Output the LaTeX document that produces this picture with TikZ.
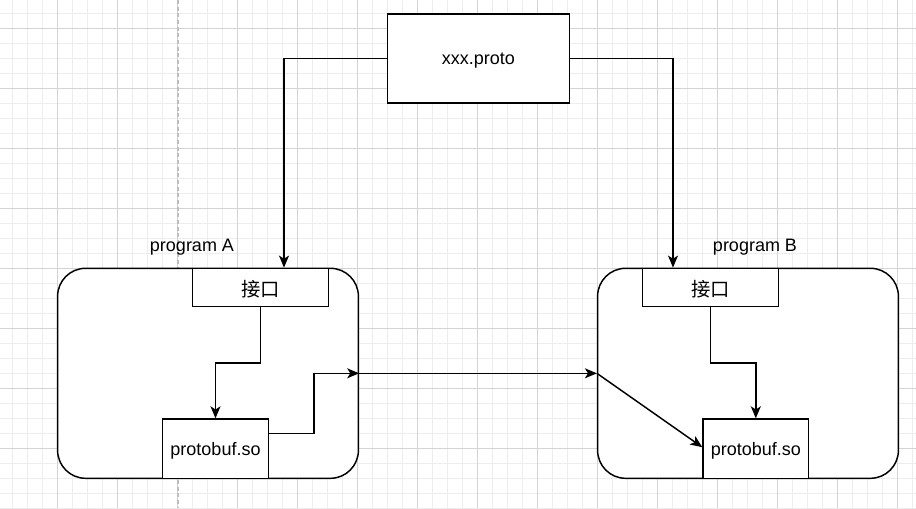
\documentclass[tikz,border=0pt]{standalone}
\usepackage{fontspec}
\setmainfont{Liberation Sans}
\newfontfamily\cjk{Noto Sans CJK SC}
\usetikzlibrary{arrows.meta,calc}
\definecolor{gridminor}{HTML}{EDEDED}
\definecolor{gridmajor}{HTML}{D4D4D4}
\definecolor{pagebreak}{HTML}{BDBDBD}
\newcommand{\lowtx}[1]{\raisebox{-1.5pt}[\height][\depth]{#1}}
\tikzset{
  every node/.style={font=\fontsize{13.5}{16}\selectfont, text=black},
  boxnode/.style={draw=black, line width=1.1pt, fill=white, inner sep=0pt, align=center},
  progbox/.style={boxnode, rounded corners=21pt, minimum width=225.6pt, minimum height=157.5pt},
  ifbox/.style={boxnode, minimum width=101.7pt, minimum height=28.8pt},
  pbbox/.style={boxnode, minimum width=79.2pt, minimum height=44.5pt},
  arr/.style={draw=black, line width=1.1pt, -{Stealth[length=9pt,width=7.5pt,inset=2.4pt]}},
  lbl/.style={inner sep=0pt}
}
\begin{document}
\begin{tikzpicture}[x=0.75pt,y=-0.75pt]
\useasboundingbox (0,0) rectangle (916,508);
\fill[white] (0,0) rectangle (916,508);
% grid
\foreach \i in {1,...,61} \draw[gridminor, line width=0.75pt] ({-2.7+15*\i},0) -- ({-2.7+15*\i},508);
\foreach \j in {1,...,34} \draw[gridminor, line width=0.75pt] (0,{-1.7+15*\j}) -- (916,{-1.7+15*\j});
\foreach \i in {1,...,15} \draw[gridmajor, line width=0.75pt] ({-2.7+60*\i},0) -- ({-2.7+60*\i},508);
\foreach \j in {0,...,7} \draw[gridmajor, line width=0.75pt] (0,{28.3+60*\j}) -- (916,{28.3+60*\j});
\draw[pagebreak, line width=0.9pt, dash pattern=on 3pt off 2pt] (178,0) -- (178,508);

% nodes
\node[boxnode, minimum width=136.5pt, minimum height=66.75pt] (proto) at (478.3,58.7) {\lowtx{xxx.proto}};
\node[progbox] (progA) at (208,373.3) {};
\node[progbox] (progB) at (748,373.3) {};
\node[lbl] (labA) at (192,247.5) {program A};
\node[lbl] (labB) at (755,247.5) {program B};
\node[ifbox] (ifA) at (260.5,287.5) {\lowtx{\fontsize{14.5}{16}\cjk 接口}};
\node[ifbox] (ifB) at (710.5,287.5) {\lowtx{\fontsize{14.5}{16}\cjk 接口}};
\node[pbbox] (pbA) at (215.5,448.7) {\lowtx{protobuf.so}};
\node[pbbox] (pbB) at (755.8,448.7) {\lowtx{protobuf.so}};

% connectors
\draw[arr] (proto.west) -| ($(ifA.north)+(23.5,0)$);
\draw[arr] (proto.east) -| ($(ifB.north)+(-37.5,0)$);
\draw[arr] (ifA.south) |- ($(ifA.south)!.5!(pbA.north)$) -| (pbA.north);
\draw[arr] (ifB.south) |- ($(ifB.south)!.5!(pbB.north)$) -| (pbB.north);
\coordinate (midA) at ($(pbA.east)!.5!(progA.east)$);
\draw[arr] ($(pbA.east)+(0,-15.4)$) -| (midA) |- (progA.east);
\draw[arr] (progA.east) -- (progB.west);
\draw[arr] (progB.west) -- ($(pbB.west)+(0,-1.5)$);
\end{tikzpicture}
\end{document}
